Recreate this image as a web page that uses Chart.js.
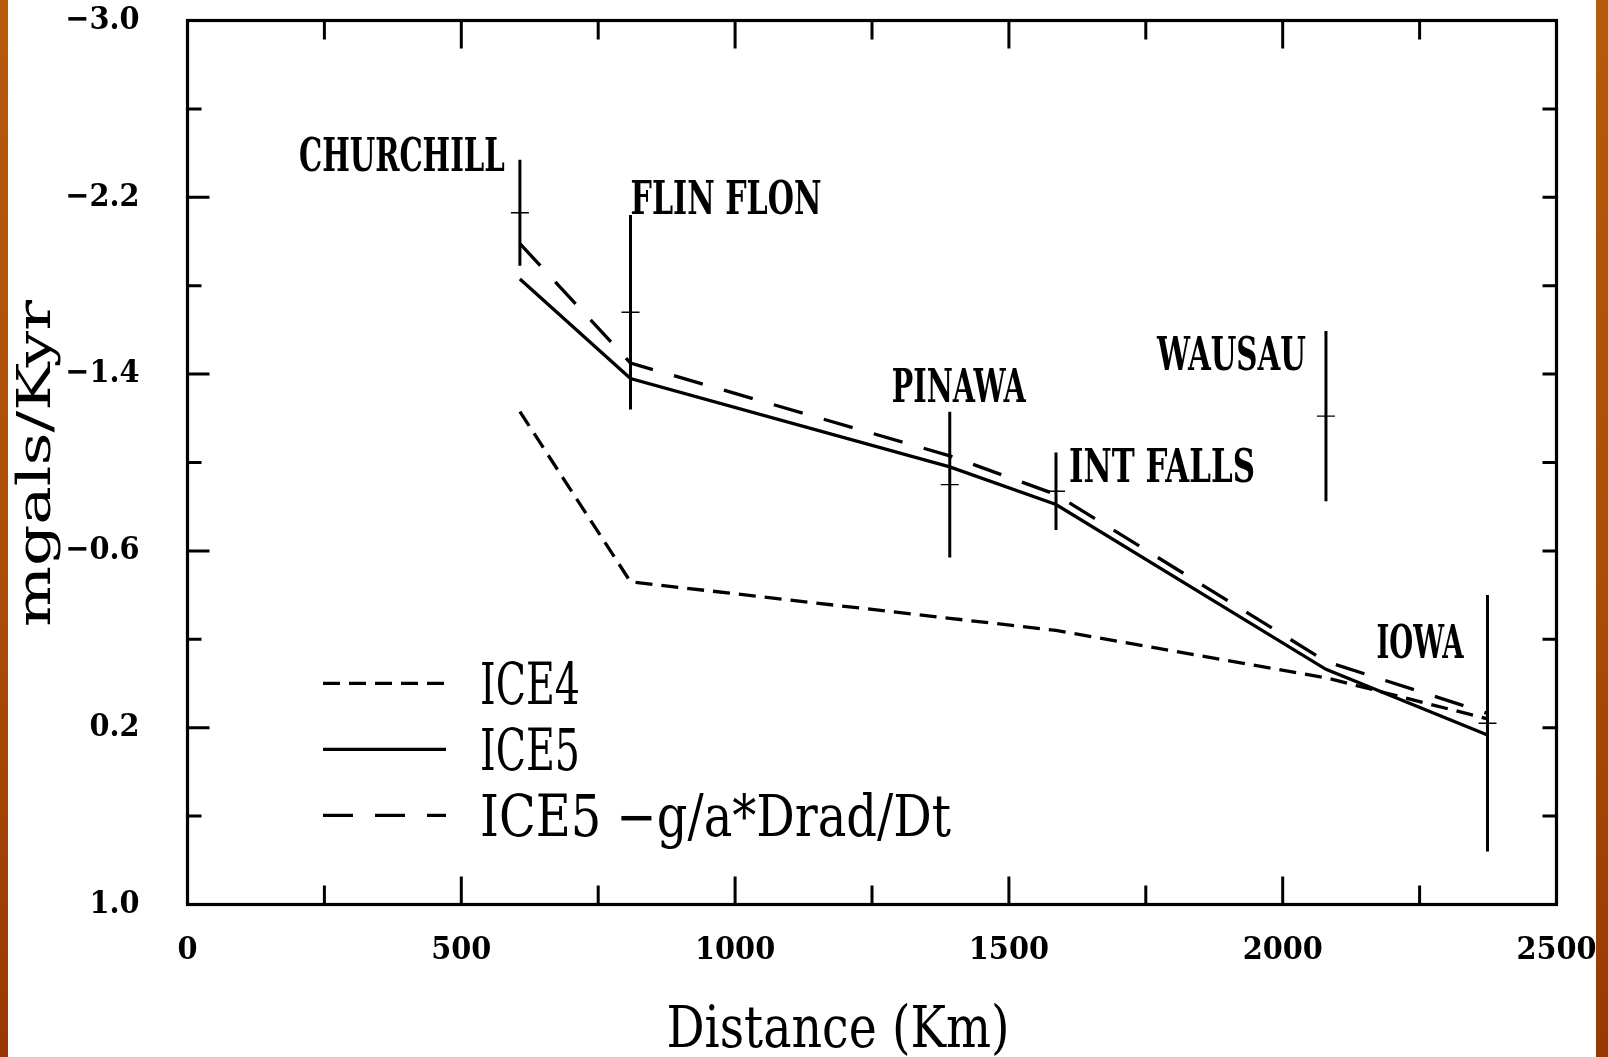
<!DOCTYPE html>
<html>
<head>
<meta charset="utf-8">
<script src="https://cdn.jsdelivr.net/npm/chart.js@4.4.1/dist/chart.umd.min.js"></script>
<style>
  html, body { margin: 0; padding: 0; background: #fff; }
  #wrap { width: 1608px; height: 1057px; position: relative; }
</style>
</head>
<body>
<div id="wrap"><canvas id="myChart"></canvas></div>
<script>
const ctx = document.getElementById("myChart");

// stations along the profile
const stations = ['CHURCHILL', 'FLIN FLON', 'PINAWA', 'INT FALLS', 'WAUSAU', 'IOWA']
const distance = [607, 809, 1392, 1586, 2079, 2374]

// observed rates (mgals/Kyr) and their error
const observed = [-2.13, -1.68, -0.90, -0.87, -1.21, 0.18]
const obsError = [0.24, 0.44, 0.33, 0.175, 0.385, 0.58]

// model predictions
const ice4 = [-1.23, -0.46, -0.295, -0.24, -0.026, 0.16]
const ice5 = [-1.83, -1.38, -0.98, -0.81, -0.064, 0.233]
const ice5rad = [-1.99, -1.45, -1.03, -0.855, -0.10, 0.135]

// where each station name sits, in px from the top of its error bar, and its drawn width
const labelPlace = [
  {dx: -15, dy: 11, align: 'right', w: 206},
  {dx: 0, dy: -1, align: 'left', w: 191},
  {dx: 9, dy: -10, align: 'center', w: 134},
  {dx: 13, dy: 29, align: 'left', w: 186},
  {dx: -20, dy: 39, align: 'right', w: 149},
  {dx: -24, dy: 63, align: 'right', w: 87}
]
const legendWidths = [100, 100, 471]

const serif = '"DejaVu Serif Condensed", "DejaVu Serif", serif'
const stationFont = 'bold 47px ' + serif
const bigFont = '57px ' + serif
const yTitleFont = '46px ' + serif
const xTickFont = {family: serif, size: 32, weight: 'bold'}
const yTickFont = {family: serif, size: 32, weight: 'bold'}

function pts(arr) {
  return distance.map((d, i) => ({x: d, y: arr[i]}))
}

function fmt(v) {
  let r = Math.round(v * 10) / 10
  return (r < 0 ? '\u2212' : '') + Math.abs(r).toFixed(1)
}

// text squeezed or stretched to a given width
function drawText(c, str, x, y, font, width, align, rot) {
  c.save()
  c.font = font
  const sx = width ? width / c.measureText(str).width : 1
  c.translate(x, y)
  if (rot) c.rotate(rot)
  c.scale(sx, 1)
  c.fillStyle = '#000'
  c.textAlign = align
  c.textBaseline = 'alphabetic'
  c.fillText(str, 0, 0)
  c.restore()
}

const paper = {
  id: 'paper',
  beforeDraw(chart) {
    const c = chart.ctx
    const w = chart.width, h = chart.height
    c.save()
    c.fillStyle = '#fff'
    c.fillRect(0, 0, w, h)
    let g = c.createLinearGradient(0, 0, 0, h)
    g.addColorStop(0, '#b65a0c')
    g.addColorStop(0.5, '#ad4f08')
    g.addColorStop(1, '#9a3804')
    c.fillStyle = g
    c.fillRect(0, 0, 8, h)
    c.fillRect(w - 12, 0, 12, h)
    c.restore()
  },
  afterDraw(chart) {
    const c = chart.ctx
    const a = chart.chartArea
    const xs = chart.scales.x, ys = chart.scales.y
    c.save()
    c.strokeStyle = '#000'
    c.lineCap = 'butt'

    // frame
    c.lineWidth = 3.2
    c.strokeRect(a.left, a.top, a.right - a.left, a.bottom - a.top)

    // inward ticks
    c.lineWidth = 3
    c.beginPath()
    xs.ticks.forEach(t => {
      const px = xs.getPixelForValue(t.value)
      const len = Math.round(t.value) % 500 === 0 ? 28 : 19
      c.moveTo(px, a.bottom); c.lineTo(px, a.bottom - len)
      c.moveTo(px, a.top); c.lineTo(px, a.top + len)
    })
    ys.ticks.forEach((t, i) => {
      const py = ys.getPixelForValue(t.value)
      const len = i % 2 === 0 ? 22 : 14
      c.moveTo(a.left, py); c.lineTo(a.left + len, py)
      c.moveTo(a.right, py); c.lineTo(a.right - 14, py)
    })
    c.stroke()

    // error bars
    c.lineWidth = 3
    c.beginPath()
    distance.forEach((d, i) => {
      const px = xs.getPixelForValue(d)
      c.moveTo(px, ys.getPixelForValue(observed[i] - obsError[i]))
      c.lineTo(px, ys.getPixelForValue(observed[i] + obsError[i]))
    })
    c.stroke()

    // station names
    stations.forEach((s, i) => {
      const px = xs.getPixelForValue(distance[i])
      const py = ys.getPixelForValue(observed[i] - obsError[i])
      const p = labelPlace[i]
      drawText(c, s, px + p.dx, py + p.dy, stationFont, p.w, p.align)
    })

    // legend
    const lines = chart.data.datasets.filter(ds => ds.inLegend)
    lines.forEach((ds, i) => {
      const ly = 683.3 + i * 66
      c.lineWidth = ds.borderWidth
      c.setLineDash(ds.borderDash || [])
      c.beginPath()
      c.moveTo(323, ly)
      c.lineTo(446, ly)
      c.stroke()
      c.setLineDash([])
      drawText(c, ds.label, 480, ly + 20.5, bigFont, legendWidths[i], 'left')
    })

    // axis titles
    drawText(c, 'Distance (Km)', (a.left + a.right) / 2 - 34, 1047, bigFont, 343, 'center')
    drawText(c, 'mgals/Kyr', 50, 463.5, yTitleFont, 327, 'center', -Math.PI / 2)
    c.restore()
  }
}

const myChart = new Chart(ctx, {
  type: 'line',
  data: {
    datasets: [
      {
        label: 'ICE4',
        data: pts(ice4),
        borderColor: '#000',
        borderWidth: 3.3,
        borderDash: [17, 9],
        pointRadius: 0,
        inLegend: true
      },
      {
        label: 'ICE5',
        data: pts(ice5),
        borderColor: '#000',
        borderWidth: 3.3,
        pointRadius: 0,
        inLegend: true
      },
      {
        label: 'ICE5 \u2212g/a*Drad/Dt',
        data: pts(ice5rad),
        borderColor: '#000',
        borderWidth: 3.3,
        borderDash: [30, 22],
        pointRadius: 0,
        inLegend: true
      },
      {
        label: 'Observed',
        data: pts(observed),
        showLine: false,
        pointStyle: 'line',
        pointRadius: 9,
        pointBorderWidth: 1.4,
        pointBorderColor: '#000'
      }
    ]
  },
  options: {
    responsive: true,
    maintainAspectRatio: false,
    animation: false,
    layout: {
      padding: {top: 20.5, right: 51.5, left: 0, bottom: 0}
    },
    scales: {
      x: {
        type: 'linear',
        min: 0,
        max: 2500,
        ticks: {
          stepSize: 250,
          color: '#000',
          font: xTickFont,
          padding: 27,
          maxRotation: 0,
          autoSkip: false,
          callback: (v) => Math.round(v) % 500 === 0 ? String(Math.round(v)) : ''
        },
        grid: {display: false, drawTicks: false},
        border: {display: false},
        afterFit: (s) => {
          s.height = 152.5
          s.paddingLeft = 0
          s.paddingRight = 0
        }
      },
      y: {
        type: 'linear',
        reverse: true,
        min: -3,
        max: 1,
        ticks: {
          stepSize: 0.4,
          color: '#000',
          font: yTickFont,
          padding: 48,
          autoSkip: false,
          callback: (v, i) => i % 2 === 0 ? fmt(v) : ''
        },
        grid: {display: false, drawTicks: false},
        border: {display: false},
        afterFit: (s) => {
          s.width = 187.5
          s.paddingTop = 0
          s.paddingBottom = 0
        }
      }
    },
    plugins: {
      legend: {display: false},
      tooltip: {enabled: false}
    }
  },
  plugins: [paper]
});
</script>
</body>
</html>
